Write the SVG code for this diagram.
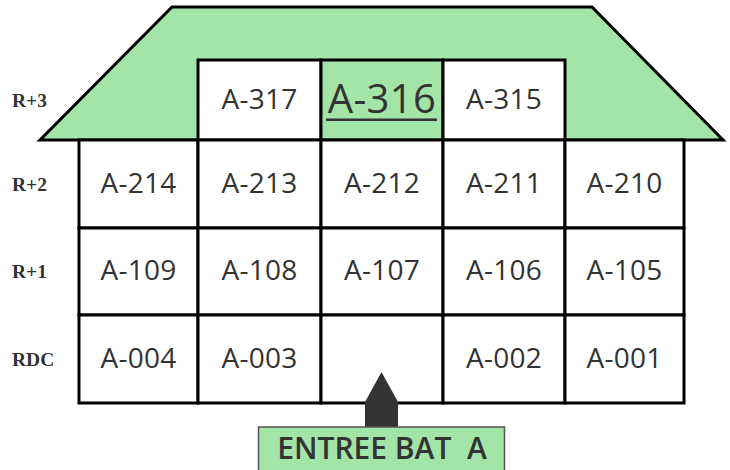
<svg xmlns="http://www.w3.org/2000/svg" width="730" height="470" viewBox="0 0 730 470">
<style>
.cell{fill:#fff;stroke:#000;stroke-width:3}
.green{fill:#a3e4a7}
.t{font-family:"Open Sans","Liberation Sans",sans-serif;font-size:28px;fill:#333;text-anchor:middle;letter-spacing:0.3px}
.lvl{font-family:"Liberation Serif",serif;font-weight:bold;font-size:19.5px;fill:#333}
</style>
<rect width="730" height="470" fill="#fff"/>
<g id="roof">
<polygon points="172,7 592,7 723,140 40,140" class="green" stroke="#000" stroke-width="3" stroke-linejoin="miter"/>
</g>
<g id="levels">
<text class="lvl" x="12" y="107">R+3</text>
<text class="lvl" x="12" y="191">R+2</text>
<text class="lvl" x="12" y="278">R+1</text>
<text class="lvl" x="12" y="366">RDC</text>
</g>
<g id="A-317"><rect class="cell" x="198" y="60" width="123" height="80"/><text class="t" x="259.5" y="109">A-317</text></g>
<g id="A-316"><rect class="cell green" x="321" y="60" width="122" height="80"/><text class="t" x="382" y="113" style="font-size:40px">A-316</text><rect x="326" y="118.5" width="111" height="2.5" fill="#333"/></g>
<g id="A-315"><rect class="cell" x="443" y="60" width="122" height="80"/><text class="t" x="504" y="109">A-315</text></g>

<g id="A-214"><rect class="cell" x="79" y="140" width="119" height="88"/><text class="t" x="138.5" y="193">A-214</text></g>
<g id="A-213"><rect class="cell" x="198" y="140" width="123" height="88"/><text class="t" x="259.5" y="193">A-213</text></g>
<g id="A-212"><rect class="cell" x="321" y="140" width="122" height="88"/><text class="t" x="382" y="193">A-212</text></g>
<g id="A-211"><rect class="cell" x="443" y="140" width="122" height="88"/><text class="t" x="504" y="193">A-211</text></g>
<g id="A-210"><rect class="cell" x="565" y="140" width="119" height="88"/><text class="t" x="624.5" y="193">A-210</text></g>

<g id="A-109"><rect class="cell" x="79" y="228" width="119" height="87"/><text class="t" x="138.5" y="280">A-109</text></g>
<g id="A-108"><rect class="cell" x="198" y="228" width="123" height="87"/><text class="t" x="259.5" y="280">A-108</text></g>
<g id="A-107"><rect class="cell" x="321" y="228" width="122" height="87"/><text class="t" x="382" y="280">A-107</text></g>
<g id="A-106"><rect class="cell" x="443" y="228" width="122" height="87"/><text class="t" x="504" y="280">A-106</text></g>
<g id="A-105"><rect class="cell" x="565" y="228" width="119" height="87"/><text class="t" x="624.5" y="280">A-105</text></g>

<g id="A-004"><rect class="cell" x="79" y="315" width="119" height="88"/><text class="t" x="138.5" y="368">A-004</text></g>
<g id="A-003"><rect class="cell" x="198" y="315" width="123" height="88"/><text class="t" x="259.5" y="368">A-003</text></g>
<g id="hall"><rect class="cell" x="321" y="315" width="122" height="88"/></g>
<g id="A-002"><rect class="cell" x="443" y="315" width="122" height="88"/><text class="t" x="504" y="368">A-002</text></g>
<g id="A-001"><rect class="cell" x="565" y="315" width="119" height="88"/><text class="t" x="624.5" y="368">A-001</text></g>

<g id="connectors">
<polygon points="381.5,372 398,402 398,428 365,428 365,402" fill="#333"/>
</g>
<g id="entree">
<rect x="258.5" y="427" width="246" height="50" fill="#a3e4a7" stroke="#555" stroke-width="1.5"/>
<text class="t" x="382" y="459" style="font-size:30px;font-weight:600;letter-spacing:0" xml:space="preserve">ENTREE BAT  A</text>
</g>
</svg>
